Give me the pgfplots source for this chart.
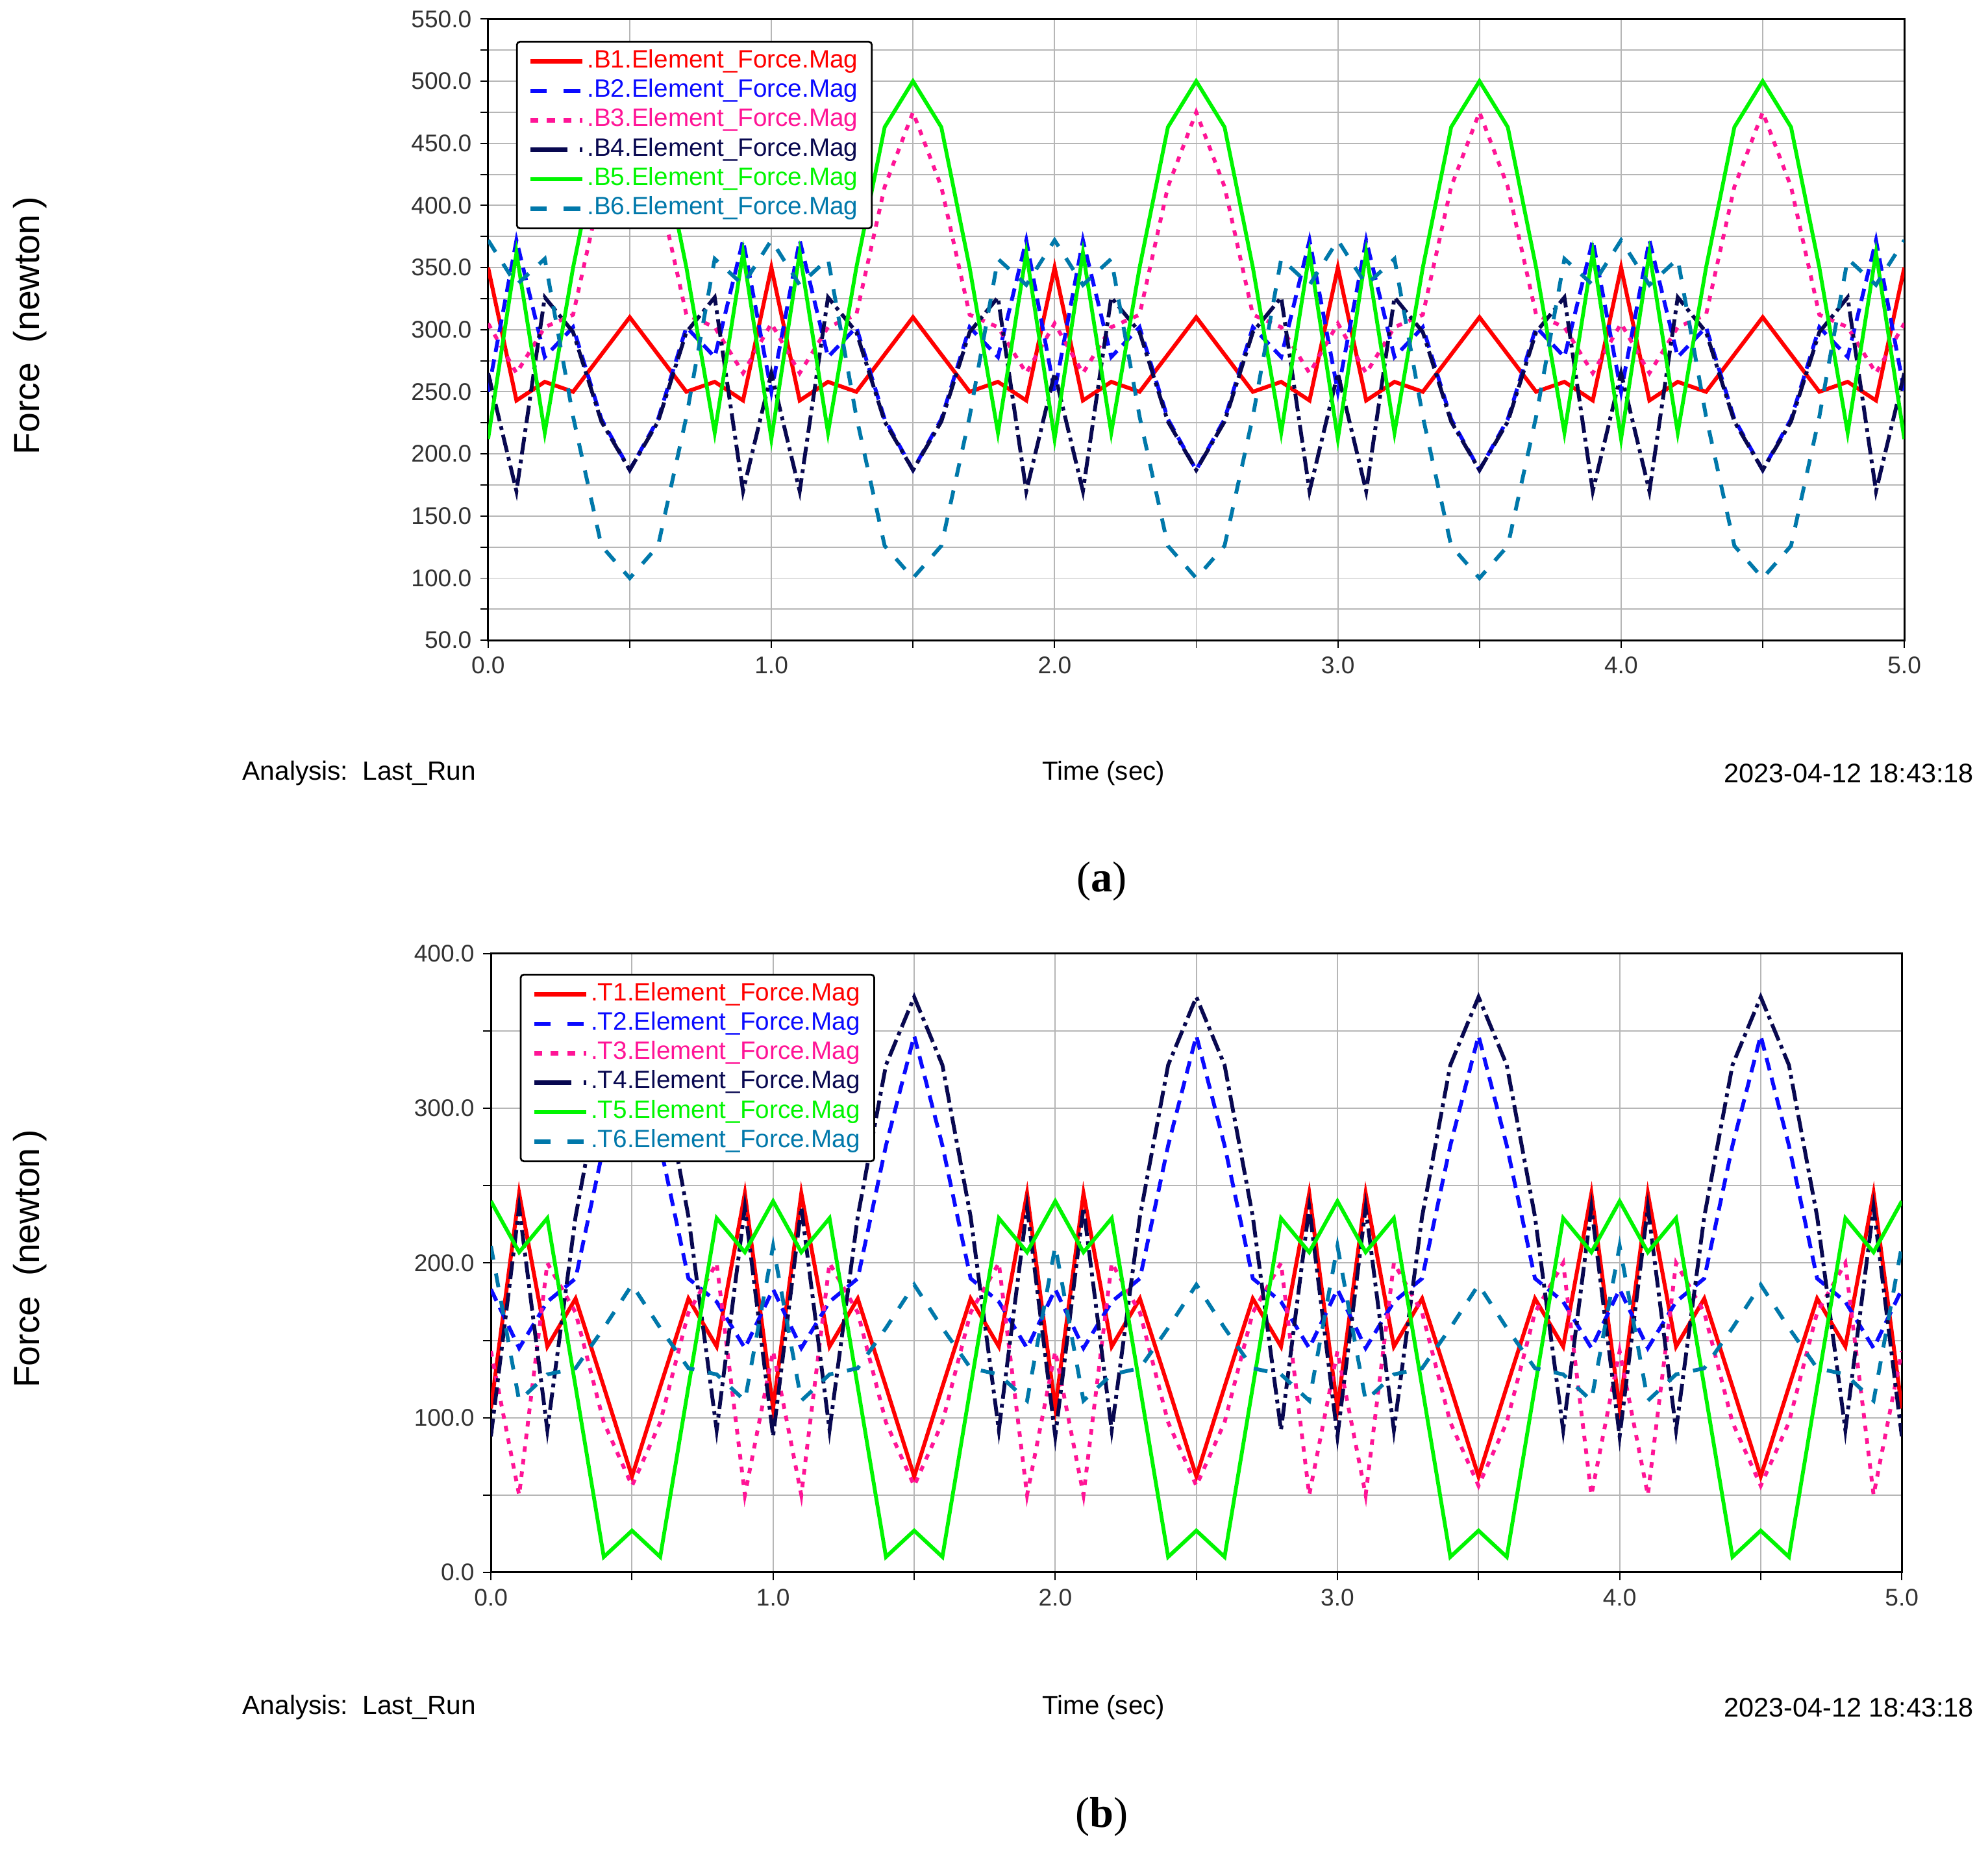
\documentclass[border=0pt]{standalone}
\usepackage{fontspec}
\setmainfont{Liberation Sans}
\newfontfamily\capfont{Liberation Serif}
\usepackage{pgfplots}
\pgfplotsset{compat=1.18}
\usepackage{pgfplotstable}

\definecolor{cB1}{RGB}{255,0,0}
\definecolor{cB2}{RGB}{10,10,255}
\definecolor{cB3}{RGB}{255,20,150}
\definecolor{cB4}{RGB}{8,8,80}
\definecolor{cB5}{RGB}{0,245,0}
\definecolor{cB6}{RGB}{0,120,170}
\definecolor{gridgray}{RGB}{182,182,182}
\definecolor{labelgray}{RGB}{50,50,50}

\pgfplotstableread{
t B1 B2 B3 B4 B5 B6
0.0 350 250 305 265 212 372
0.1 243 372 265 170 362 336
0.2 258 278 302 326 217 357
0.3 250 302 312 298 350 230
0.4 280 228 415 226 463 126
0.5 310 187 475 187 500 100
0.6 280 228 415 226 463 126
0.7 250 302 312 298 350 230
0.8 258 278 302 326 217 357
0.9 243 372 265 170 362 336
1.0 350 250 305 265 212 372
1.1 243 372 265 170 362 336
1.2 258 278 302 326 217 357
1.3 250 302 312 298 350 230
1.4 280 228 415 226 463 126
1.5 310 187 475 187 500 100
1.6 280 228 415 226 463 126
1.7 250 302 312 298 350 230
1.8 258 278 302 326 217 357
1.9 243 372 265 170 362 336
2.0 350 250 305 265 212 372
2.1 243 372 265 170 362 336
2.2 258 278 302 326 217 357
2.3 250 302 312 298 350 230
2.4 280 228 415 226 463 126
2.5 310 187 475 187 500 100
2.6 280 228 415 226 463 126
2.7 250 302 312 298 350 230
2.8 258 278 302 326 217 357
2.9 243 372 265 170 362 336
3.0 350 250 305 265 212 372
3.1 243 372 265 170 362 336
3.2 258 278 302 326 217 357
3.3 250 302 312 298 350 230
3.4 280 228 415 226 463 126
3.5 310 187 475 187 500 100
3.6 280 228 415 226 463 126
3.7 250 302 312 298 350 230
3.8 258 278 302 326 217 357
3.9 243 372 265 170 362 336
4.0 350 250 305 265 212 372
4.1 243 372 265 170 362 336
4.2 258 278 302 326 217 357
4.3 250 302 312 298 350 230
4.4 280 228 415 226 463 126
4.5 310 187 475 187 500 100
4.6 280 228 415 226 463 126
4.7 250 302 312 298 350 230
4.8 258 278 302 326 217 357
4.9 243 372 265 170 362 336
5.0 350 250 305 265 212 372
}\tabA

\pgfplotstableread{
t T1 T2 T3 T4 T5 T6
0.0 106 183 143 88 240 211
0.1 245 145 50 236 207 111
0.2 146 175 200 92 229 128
0.3 177 190 168 230 120 132
0.4 120 276 97 328 10 158
0.5 62 347 56 372 27 186
0.6 120 276 97 328 10 158
0.7 177 190 168 230 120 132
0.8 146 175 200 92 229 128
0.9 245 145 50 236 207 111
1.0 106 183 143 88 240 211
1.1 245 145 50 236 207 111
1.2 146 175 200 92 229 128
1.3 177 190 168 230 120 132
1.4 120 276 97 328 10 158
1.5 62 347 56 372 27 186
1.6 120 276 97 328 10 158
1.7 177 190 168 230 120 132
1.8 146 175 200 92 229 128
1.9 245 145 50 236 207 111
2.0 106 183 143 88 240 211
2.1 245 145 50 236 207 111
2.2 146 175 200 92 229 128
2.3 177 190 168 230 120 132
2.4 120 276 97 328 10 158
2.5 62 347 56 372 27 186
2.6 120 276 97 328 10 158
2.7 177 190 168 230 120 132
2.8 146 175 200 92 229 128
2.9 245 145 50 236 207 111
3.0 106 183 143 88 240 211
3.1 245 145 50 236 207 111
3.2 146 175 200 92 229 128
3.3 177 190 168 230 120 132
3.4 120 276 97 328 10 158
3.5 62 347 56 372 27 186
3.6 120 276 97 328 10 158
3.7 177 190 168 230 120 132
3.8 146 175 200 92 229 128
3.9 245 145 50 236 207 111
4.0 106 183 143 88 240 211
4.1 245 145 50 236 207 111
4.2 146 175 200 92 229 128
4.3 177 190 168 230 120 132
4.4 120 276 97 328 10 158
4.5 62 347 56 372 27 186
4.6 120 276 97 328 10 158
4.7 177 190 168 230 120 132
4.8 146 175 200 92 229 128
4.9 245 145 50 236 207 111
5.0 106 183 143 88 240 211
}\tabB

\pgfplotsset{
  forceaxis/.style={
    scale only axis,
    xmin=0, xmax=5,
    xtick={0,1,2,3,4,5},
    minor xtick={0.5,1.5,2.5,3.5,4.5},
    grid=both,
    major grid style={draw=gridgray, line width=0.5pt},
    minor grid style={draw=gridgray, line width=0.5pt},
    tick align=outside,
    major tick length=3pt, minor tick length=3pt,
    xtick pos=left, ytick pos=left,
    every tick/.style={black, line width=0.5pt},
    minor tick style={black, line width=0.5pt},
    axis line style={black, line width=0.75pt},
    ticklabel style={font=\fontsize{9.5}{10}\selectfont, text=labelgray},
    xticklabel={\pgfmathprintnumber[fixed,fixed zerofill,precision=1,assume math mode=true]{\tick}},
    yticklabel={\pgfmathprintnumber[fixed,fixed zerofill,precision=1,assume math mode=true]{\tick}},
    legend cell align=left,
    legend image code/.code={\draw[##1, line width=1.7pt] (0pt,0pt) -- (20.5pt,0pt);},
    legend style={draw=black, line width=0.7pt, rounded corners=1.2pt, fill=white,
      inner xsep=4.5pt, inner ysep=2pt, row sep=0pt,
      font=\fontsize{9.9}{10}\selectfont,
      nodes={inner sep=1.0pt, text height=7.2pt, text depth=2.4pt}},
    every axis plot/.append style={no marks},
  },
  sB1/.style={cB1, line width=1.55pt},
  sB2/.style={cB2, line width=1.5pt, dash pattern=on 5pt off 3pt},
  sB3/.style={cB3, line width=1.5pt, dash pattern=on 2.2pt off 2.8pt},
  sB4/.style={cB4, line width=1.5pt, dash pattern=on 7pt off 2pt on 1.5pt off 2pt},
  sB5/.style={cB5, line width=1.5pt},
  sB6/.style={cB6, line width=1.5pt, dash pattern=on 5.5pt off 5.5pt},
  lB1/.style={cB1},
  lB2/.style={cB2, dash pattern=on 6.5pt off 6.6pt},
  lB3/.style={cB3, dash pattern=on 3.1pt off 3.4pt},
  lB4/.style={cB4, dash pattern=on 14.5pt off 5pt on 1pt off 5pt},
  lB5/.style={cB5},
  lB6/.style={cB6, dash pattern=on 6.5pt off 6.6pt},
}

\begin{document}
\begin{tikzpicture}
\path[use as bounding box] (0pt,0pt) rectangle (784pt,-729.2pt);

\begin{axis}[forceaxis,
  at={(192.5pt,-252.5pt)}, anchor=south west,
  width=558.5pt, height=245pt,
  ymin=50, ymax=550,
  ytick={50,100,...,550},
  minor ytick={75,125,...,525},
  legend style={at={(0.0197,0.9649)}, anchor=north west}]
\addlegendimage{lB1}\addlegendentry{\textcolor{cB1}{.B1.Element\_Force.Mag}}
\addlegendimage{lB2}\addlegendentry{\textcolor{cB2}{.B2.Element\_Force.Mag}}
\addlegendimage{lB3}\addlegendentry{\textcolor{cB3}{.B3.Element\_Force.Mag}}
\addlegendimage{lB4}\addlegendentry{\textcolor{cB4}{.B4.Element\_Force.Mag}}
\addlegendimage{lB5}\addlegendentry{\textcolor{cB5}{.B5.Element\_Force.Mag}}
\addlegendimage{lB6}\addlegendentry{\textcolor{cB6}{.B6.Element\_Force.Mag}}
\addplot[sB1, forget plot] table[x=t,y=B1]{\tabA};
\addplot[sB2, forget plot] table[x=t,y=B2]{\tabA};
\addplot[sB3, forget plot] table[x=t,y=B3]{\tabA};
\addplot[sB4, forget plot] table[x=t,y=B4]{\tabA};
\addplot[sB5, forget plot] table[x=t,y=B5]{\tabA};
\addplot[sB6, forget plot] table[x=t,y=B6]{\tabA};
\end{axis}

\begin{axis}[forceaxis,
  at={(193.6pt,-620.1pt)}, anchor=south west,
  width=556.4pt, height=244pt,
  ymin=0, ymax=400,
  ytick={0,100,...,400},
  minor ytick={50,150,250,350},
  legend style={at={(0.0205,0.9676)}, anchor=north west}]
\addlegendimage{lB1}\addlegendentry{\textcolor{cB1}{.T1.Element\_Force.Mag}}
\addlegendimage{lB2}\addlegendentry{\textcolor{cB2}{.T2.Element\_Force.Mag}}
\addlegendimage{lB3}\addlegendentry{\textcolor{cB3}{.T3.Element\_Force.Mag}}
\addlegendimage{lB4}\addlegendentry{\textcolor{cB4}{.T4.Element\_Force.Mag}}
\addlegendimage{lB5}\addlegendentry{\textcolor{cB5}{.T5.Element\_Force.Mag}}
\addlegendimage{lB6}\addlegendentry{\textcolor{cB6}{.T6.Element\_Force.Mag}}
\addplot[sB1, forget plot] table[x=t,y=T1]{\tabB};
\addplot[sB2, forget plot] table[x=t,y=T2]{\tabB};
\addplot[sB3, forget plot] table[x=t,y=T3]{\tabB};
\addplot[sB4, forget plot] table[x=t,y=T4]{\tabB};
\addplot[sB5, forget plot] table[x=t,y=T5]{\tabB};
\addplot[sB6, forget plot] table[x=t,y=T6]{\tabB};
\end{axis}

% surrounding texts, panel (a)
\node[rotate=90, inner sep=0pt, font=\fontsize{14.2}{15}\selectfont] at (11.8pt,-128.5pt) {Force\ \ (newton\,)};
\node[anchor=west, inner sep=0pt, font=\fontsize{10.4}{12}\selectfont] at (95.5pt,-305pt) {Analysis:\ \ Last\_Run};
\node[inner sep=0pt, font=\fontsize{10.3}{12}\selectfont] at (435.2pt,-305pt) {Time (sec)};
\node[anchor=east, inner sep=0pt, font=\fontsize{10.6}{12}\selectfont] at (778.5pt,-305pt) {2023-04-12 18:43:18};
\node[inner sep=0pt, font=\capfont\fontsize{17}{20}\selectfont] at (434.5pt,-347.5pt) {(\textbf{a})};

% surrounding texts, panel (b)
\node[rotate=90, inner sep=0pt, font=\fontsize{14.2}{15}\selectfont] at (11.8pt,-496.5pt) {Force\ \ (newton\,)};
\node[anchor=west, inner sep=0pt, font=\fontsize{10.4}{12}\selectfont] at (95.5pt,-673.5pt) {Analysis:\ \ Last\_Run};
\node[inner sep=0pt, font=\fontsize{10.3}{12}\selectfont] at (435.2pt,-673.5pt) {Time (sec)};
\node[anchor=east, inner sep=0pt, font=\fontsize{10.6}{12}\selectfont] at (778.5pt,-673.5pt) {2023-04-12 18:43:18};
\node[inner sep=0pt, font=\capfont\fontsize{17}{20}\selectfont] at (434.5pt,-716.5pt) {(\textbf{b})};
\end{tikzpicture}
\end{document}
